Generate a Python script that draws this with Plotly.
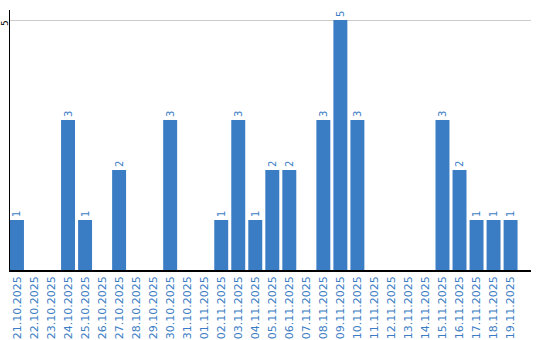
import plotly.graph_objects as go

dates = ["21.10.2025", "22.10.2025", "23.10.2025", "24.10.2025", "25.10.2025",
         "26.10.2025", "27.10.2025", "28.10.2025", "29.10.2025", "30.10.2025",
         "31.10.2025", "01.11.2025", "02.11.2025", "03.11.2025", "04.11.2025",
         "05.11.2025", "06.11.2025", "07.11.2025", "08.11.2025", "09.11.2025",
         "10.11.2025", "11.11.2025", "12.11.2025", "13.11.2025", "14.11.2025",
         "15.11.2025", "16.11.2025", "17.11.2025", "18.11.2025", "19.11.2025"]
counts = [1, 0, 0, 3, 1, 0, 2, 0, 0, 3,
          0, 0, 1, 3, 1, 2, 2, 0, 3, 5,
          3, 0, 0, 0, 0, 3, 2, 1, 1, 1]
y_ticks = [5]

blue = "#3b7dc4"
labels = [str(v) if v > 0 else "" for v in counts]

fig = go.Figure(go.Bar(
    x=list(range(len(dates))), y=counts,
    marker=dict(color=blue, line=dict(width=0)),
    text=labels, textposition="outside", textangle=-90,
    textfont=dict(family="DejaVu Sans", size=10, color=blue),
    cliponaxis=False,
))

for t in y_ticks:
    fig.add_annotation(
        x=0, xref="paper", y=t, yref="y", text=str(t), showarrow=False,
        textangle=-90, xanchor="center", yanchor="middle",
        xshift=-5, yshift=-3, borderpad=0,
        font=dict(family="DejaVu Sans", size=9, color="black"),
    )

fig.update_layout(
    width=540, height=340,
    margin=dict(l=10, r=9, t=10, b=70),
    paper_bgcolor="white", plot_bgcolor="white",
    bargap=0.18, showlegend=False,
    xaxis=dict(
        range=[-0.41, 30.2], tickmode="array",
        tickvals=list(range(len(dates))), ticktext=dates,
        tickangle=-90, tickfont=dict(family="DejaVu Sans", size=11, color=blue),
        showline=True, linecolor="black", linewidth=1.5,
        showgrid=False, ticks="", ticklen=0, zeroline=False,
        automargin=False,
    ),
    yaxis=dict(
        range=[0, 5.2], tickmode="array", tickvals=y_ticks,
        showticklabels=False,
        showline=True, linecolor="black", linewidth=1,
        showgrid=True, gridcolor="#cccccc", gridwidth=1,
        zeroline=False, ticks="", automargin=False,
    ),
)

fig.write_html("out.html")
